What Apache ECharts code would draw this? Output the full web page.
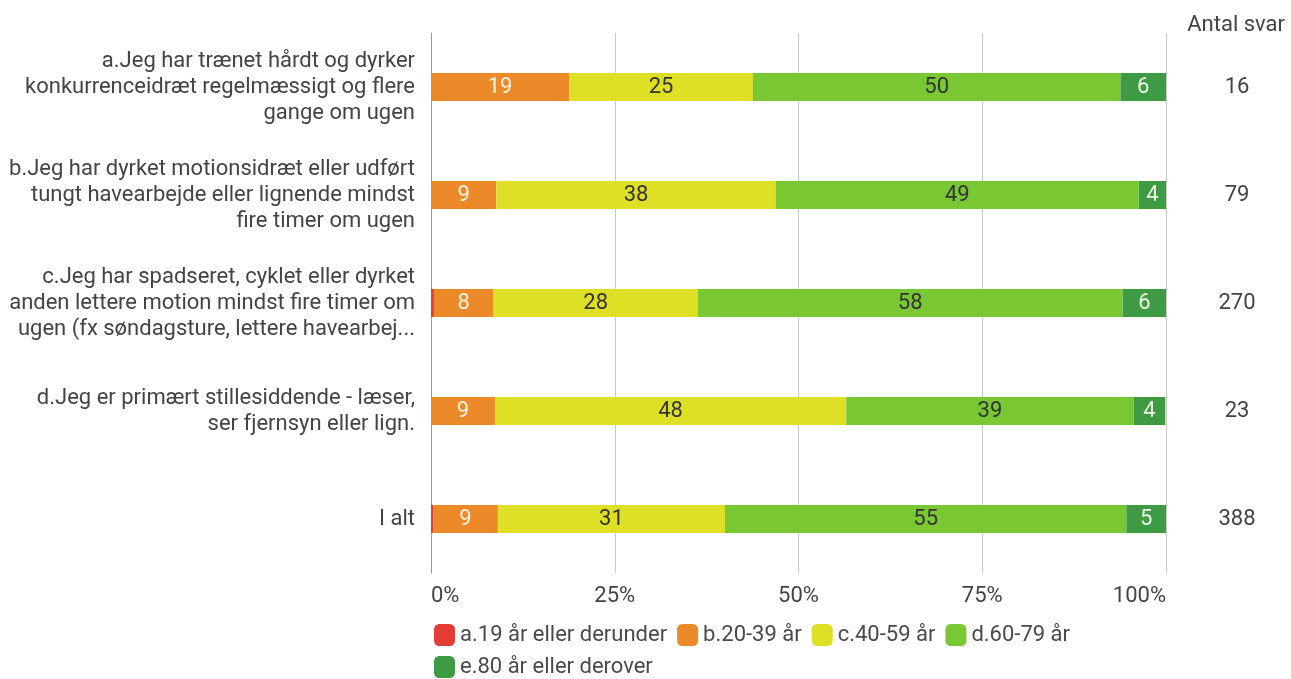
<!DOCTYPE html>
<html><head><meta charset="utf-8">
<script src="https://cdn.jsdelivr.net/npm/echarts@6/dist/echarts.min.js"></script>
<style>html,body{margin:0;padding:0;background:#fff}#c{width:1291px;height:679px}</style>
</head><body><div id="c"></div>
<script>
const categories = [
  'a.Jeg har trænet hårdt og dyrker\nkonkurrenceidræt regelmæssigt og flere\ngange om ugen',
  'b.Jeg har dyrket motionsidræt eller udført\ntungt havearbejde eller lignende mindst\nfire timer om ugen',
  'c.Jeg har spadseret, cyklet eller dyrket\nanden lettere motion mindst fire timer om\nugen (fx søndagsture, lettere havearbej...',
  'd.Jeg er primært stillesiddende - læser,\nser fjernsyn eller lign.',
  'I alt'
];
const counts = ['16', '79', '270', '23', '388'];
const seriesNames = ['a.19 år eller derunder', 'b.20-39 år', 'c.40-59 år', 'd.60-79 år', 'e.80 år eller derover'];
const valA = [0, 0, 0.4, 0, 0.3];
const valB = [18.8, 8.9, 8.1, 8.7, 8.8];
const valC = [25.0, 38.0, 27.8, 47.8, 30.9];
const valD = [50.0, 49.4, 57.8, 39.1, 54.6];
const valE = [6.2, 3.8, 5.9, 4.3, 5.4];
const xTicks = ['0%', '25%', '50%', '75%', '100%'];

const colors = ['#e53c36', '#ec8a2a', '#dde024', '#78c733', '#3f9b43'];
const labelColors = [null, '#fff3e0', '#333333', '#333333', '#eef7e8'];
const allVals = [valA, valB, valC, valD, valE];

const chart = echarts.init(document.getElementById('c'));
const font = 'Roboto, "Noto Sans", sans-serif';
chart.setOption({
  animation: false,
  textStyle: {fontFamily: font},
  title: {text: 'Antal svar', right: 1, top: 9, textStyle: {fontFamily: font, fontSize: 22, fontWeight: 'normal', color: '#444'}},
  grid: {left: 431, right: 125, top: 33, bottom: 106, containLabel: false},
  legend: {
    left: 429, top: 619, width: 740, itemWidth: 21, itemHeight: 22, itemGap: 10,
    icon: 'roundRect',
    textStyle: {fontSize: 22, color: '#4a4a4a'},
    data: seriesNames
  },
  xAxis: {
    type: 'value', min: 0, max: 100, interval: 25,
    axisLine: {show: false}, axisTick: {show: false},
    splitLine: {lineStyle: {color: '#c8c8c8', width: 1}},
    axisLabel: {fontSize: 22, color: '#444', margin: 12, alignMinLabel: 'left', alignMaxLabel: 'right',
      formatter: v => xTicks[Math.round(v / 25)]}
  },
  yAxis: [{
    type: 'category', inverse: true, data: categories,
    axisLine: {show: true, lineStyle: {color: '#999'}}, axisTick: {show: false},
    axisLabel: {fontSize: 22, color: '#444', margin: 16, lineHeight: 26, align: 'right',
      padding: [3, 0, 0, 0]}
  }, {
    type: 'category', inverse: true, data: counts, position: 'right',
    axisLine: {show: false}, axisTick: {show: false},
    axisLabel: {fontSize: 22, color: '#444', margin: 71, align: 'center'}
  }],
  series: allVals.map((vals, i) => ({
    name: seriesNames[i], type: 'bar', stack: 'total', data: vals, barWidth: 28,
    itemStyle: {color: colors[i]},
    label: {
      show: i > 0, position: 'inside', fontSize: 22, color: labelColors[i] || '#333',
      formatter: p => p.value >= 2 ? String(Math.round(p.value)) : ''
    }
  }))
});
</script></body></html>
